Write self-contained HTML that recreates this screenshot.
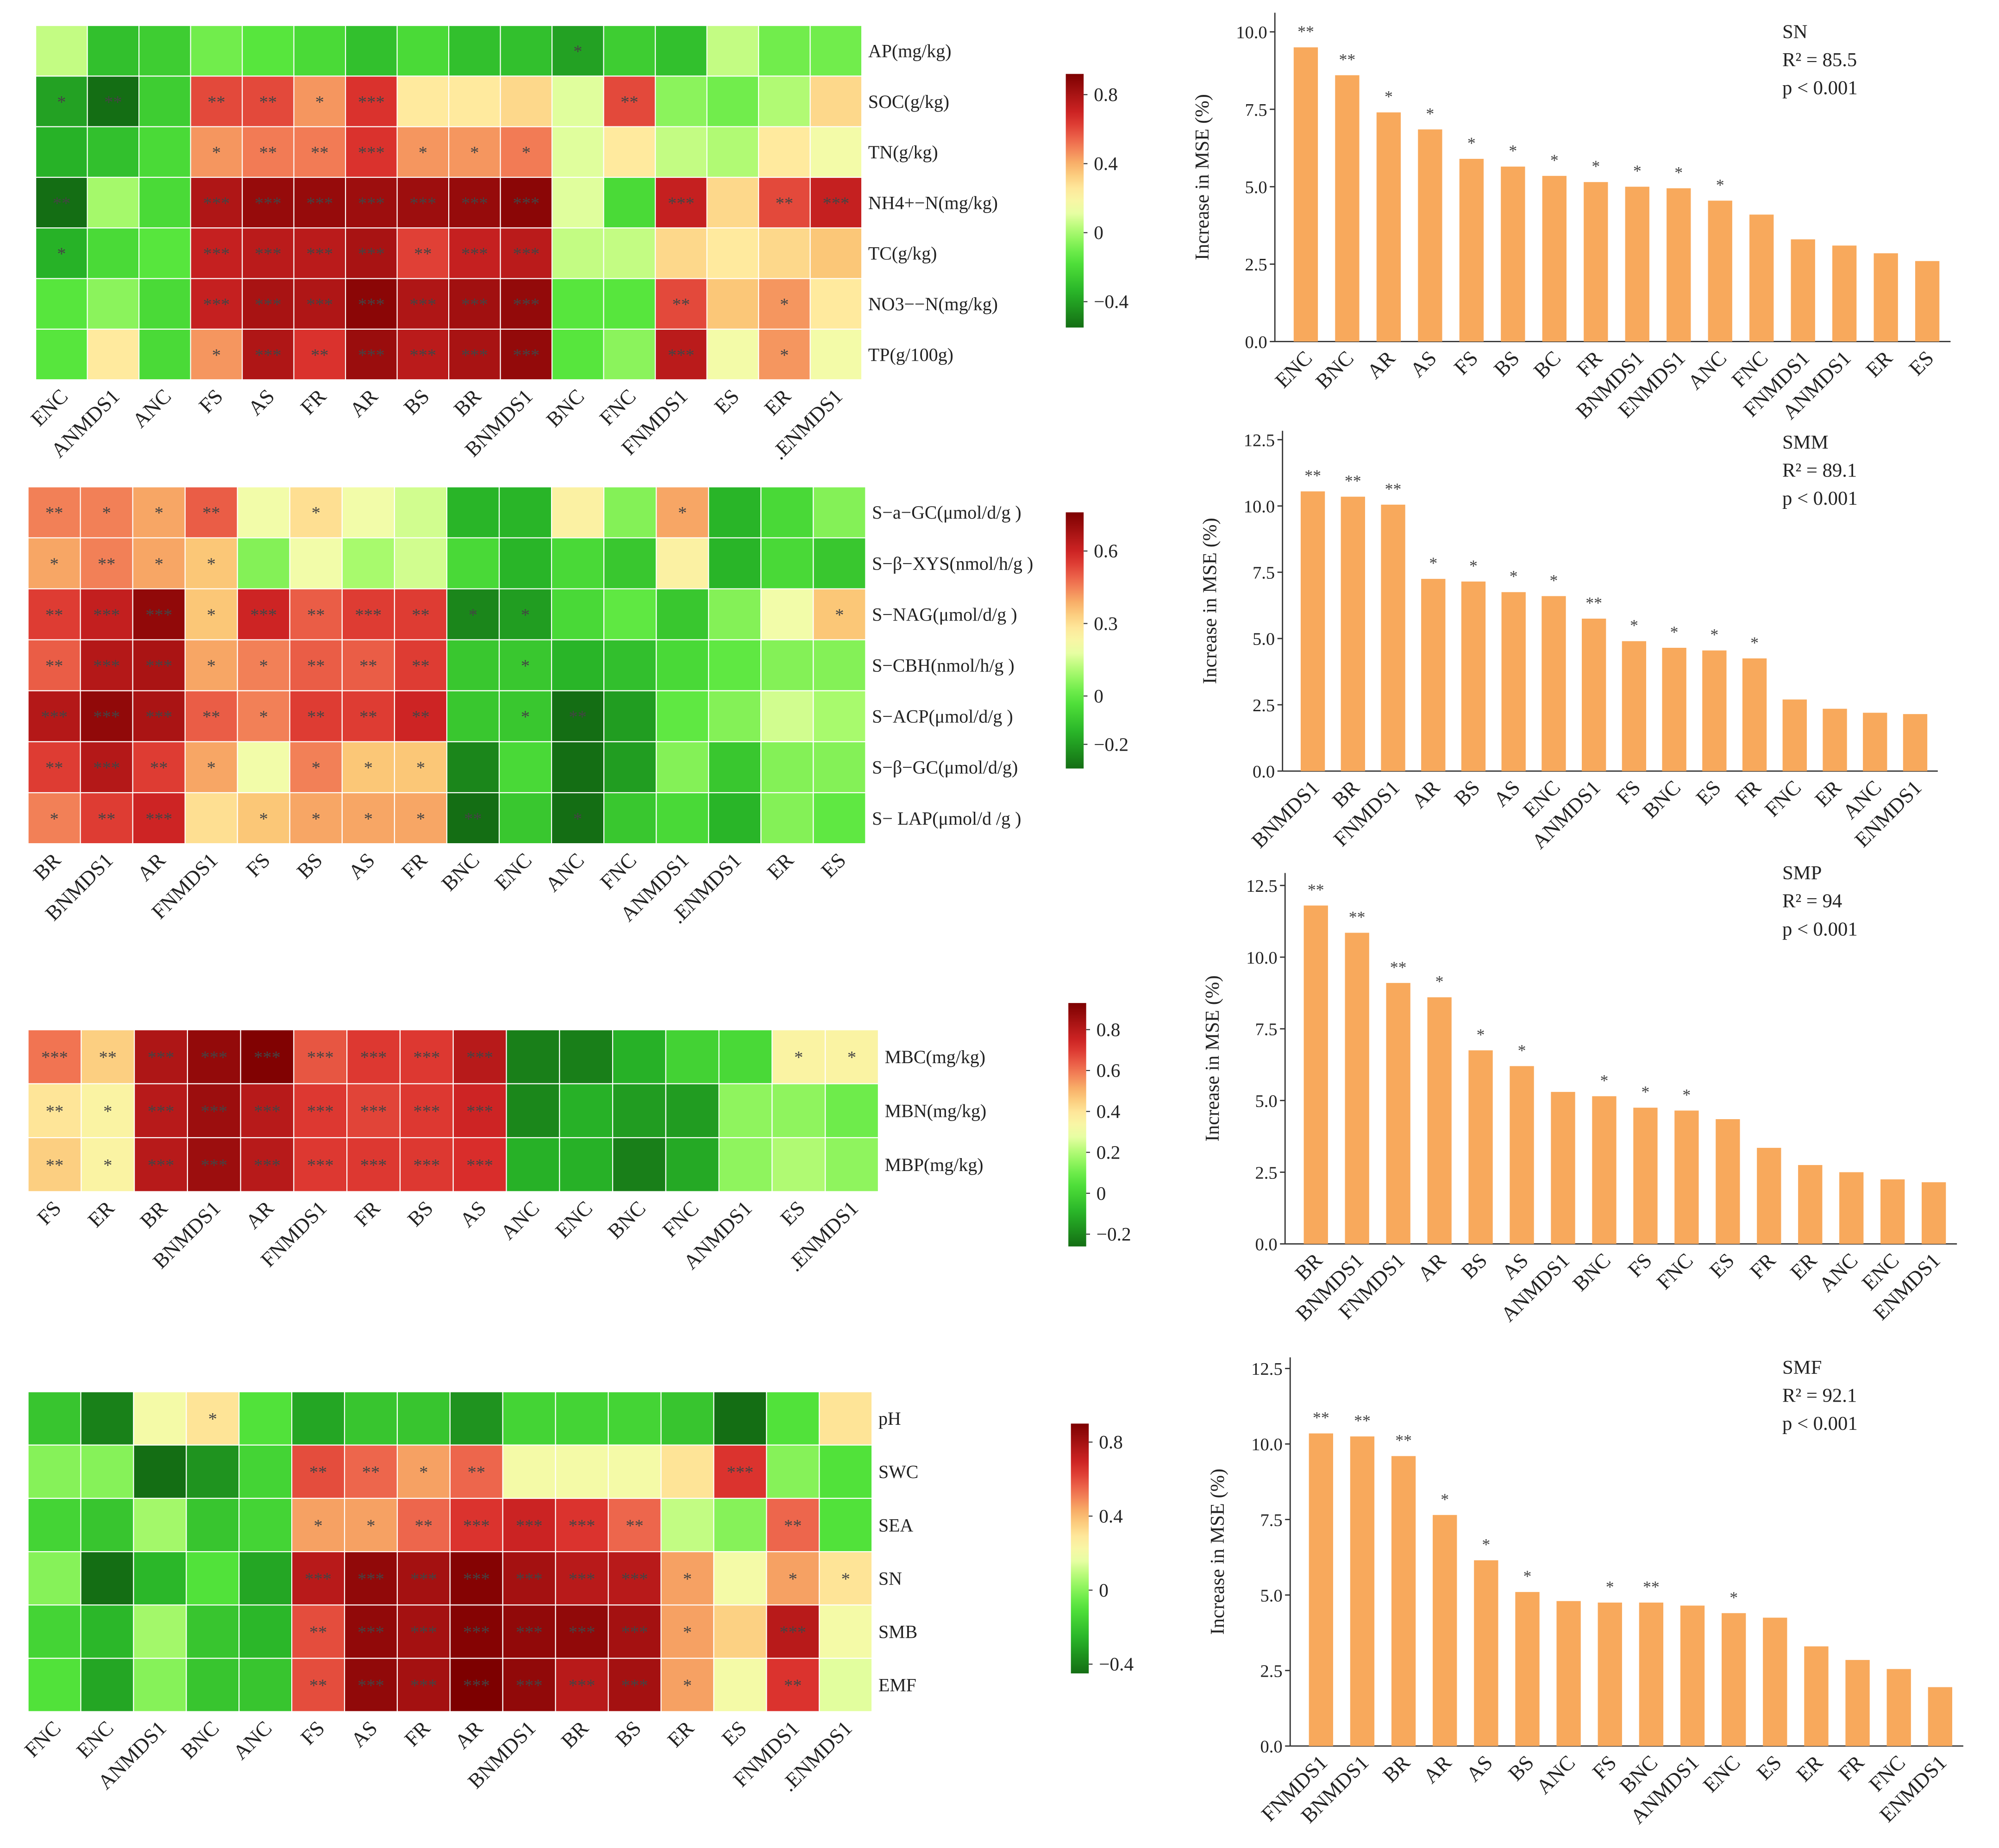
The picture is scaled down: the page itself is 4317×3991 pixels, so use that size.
<!DOCTYPE html>
<html><head><meta charset="utf-8"><style>
html,body{margin:0;padding:0;background:#fff}
svg{display:block}
text{font-family:"Liberation Serif",serif;fill:#222}
</style></head><body>
<svg id="fig" width="4317" height="3991" viewBox="0 0 1568 1450" preserveAspectRatio="none" xmlns="http://www.w3.org/2000/svg">
<rect width="1568" height="1450" fill="#fff"/>
</svg>
<script>
// ---------- Heatmap data ----------
const h1Cols = ["ENC","ANMDS1","ANC","FS","AS","FR","AR","BS","BR","BNMDS1","BNC","FNC","FNMDS1","ES","ER",".ENMDS1"];
const h1Rows = ["AP(mg/kg)","SOC(g/kg)","TN(g/kg)","NH4+−N(mg/kg)","TC(g/kg)","NO3−−N(mg/kg)","TP(g/100g)"];
const h1Vals = [
[0.05,-0.3,-0.25,-0.1,-0.15,-0.2,-0.3,-0.2,-0.3,-0.3,-0.4,-0.25,-0.3,0.05,-0.1,-0.1],
[-0.4,-0.55,-0.25,0.6,0.6,0.45,0.65,0.25,0.25,0.3,0.1,0.6,-0.05,-0.1,0.02,0.3],
[-0.35,-0.3,-0.2,0.45,0.5,0.5,0.65,0.45,0.45,0.5,0.1,0.25,0.05,0.02,0.25,0.15],
[-0.55,0.0,-0.2,0.78,0.85,0.85,0.83,0.83,0.85,0.88,0.1,-0.2,0.72,0.3,0.6,0.72],
[-0.35,-0.2,-0.15,0.72,0.75,0.75,0.8,0.62,0.72,0.75,0.05,0.05,0.3,0.25,0.3,0.35],
[-0.15,-0.05,-0.2,0.72,0.8,0.78,0.88,0.78,0.82,0.86,-0.15,-0.15,0.6,0.35,0.45,0.25],
[-0.15,0.25,-0.2,0.45,0.78,0.65,0.84,0.75,0.8,0.86,-0.15,-0.05,0.75,0.15,0.45,0.15]];
const h1Stars = [
["","","","","","","","","","","*","","","","",""],
["*","**","","**","**","*","***","","","","","**","","","",""],
["","","","*","**","**","***","*","*","*","","","","","",""],
["**","","","***","***","***","***","***","***","***","","","***","","**","***"],
["*","","","***","***","***","***","**","***","***","","","","","",""],
["","","","***","***","***","***","***","***","***","","","**","","*",""],
["","","","*","***","**","***","***","***","***","","","***","","*",""]];
const h1Ticks = [0.8,0.4,0,-0.4];

const h2Cols = ["BR","BNMDS1","AR","FNMDS1","FS","BS","AS","FR","BNC","ENC","ANC","FNC","ANMDS1",".ENMDS1","ER","ES"];
const h2Rows = ["S−a−GC(μmol/d/g )","S−β−XYS(nmol/h/g )","S−NAG(μmol/d/g )","S−CBH(nmol/h/g )","S−ACP(μmol/d/g )","S−β−GC(μmol/d/g)","S− LAP(μmol/d /g )"];
const h2Vals = [
[0.45,0.45,0.4,0.5,0.2,0.3,0.2,0.15,-0.15,-0.15,0.25,0.05,0.4,-0.15,-0.05,0.05],
[0.4,0.45,0.4,0.35,0.05,0.2,0.1,0.15,-0.05,-0.15,-0.05,-0.1,0.25,-0.15,-0.05,-0.1],
[0.55,0.62,0.72,0.35,0.6,0.5,0.55,0.55,-0.25,-0.2,-0.05,0.0,-0.1,0.05,0.2,0.35],
[0.5,0.65,0.67,0.4,0.45,0.5,0.5,0.55,-0.1,-0.1,-0.15,-0.12,-0.05,0.0,0.05,0.05],
[0.65,0.72,0.67,0.5,0.45,0.55,0.55,0.6,-0.1,-0.1,-0.3,-0.2,0.0,0.05,0.15,0.1],
[0.55,0.65,0.55,0.4,0.2,0.45,0.35,0.35,-0.25,-0.05,-0.3,-0.2,0.05,-0.1,0.05,0.05],
[0.45,0.55,0.6,0.3,0.35,0.4,0.4,0.4,-0.3,-0.1,-0.3,-0.1,-0.05,-0.15,0.05,0.0]];
const h2Stars = [
["**","*","*","**","","*","","","","","","","*","","",""],
["*","**","*","*","","","","","","","","","","","",""],
["**","***","***","*","***","**","***","**","*","*","","","","","","*"],
["**","***","***","*","*","**","**","**","","*","","","","","",""],
["***","***","***","**","*","**","**","**","","*","**","","","","",""],
["**","***","**","*","","*","*","*","","","","","","","",""],
["*","**","***","","*","*","*","*","**","","*","","","","",""]];
const h2Ticks = [0.6,0.3,0,-0.2];

const h3Cols = ["FS","ER","BR","BNMDS1","AR","FNMDS1","FR","BS","AS","ANC","ENC","BNC","FNC","ANMDS1","ES",".ENMDS1"];
const h3Rows = ["MBC(mg/kg)","MBN(mg/kg)","MBP(mg/kg)"];
const h3Vals = [
[0.6,0.45,0.82,0.88,0.92,0.65,0.7,0.7,0.8,-0.22,-0.22,-0.1,0.0,0.02,0.35,0.35],
[0.4,0.35,0.8,0.86,0.8,0.7,0.68,0.7,0.75,-0.2,-0.1,-0.15,-0.15,0.15,0.15,0.1],
[0.45,0.35,0.8,0.86,0.8,0.7,0.7,0.7,0.72,-0.1,-0.1,-0.22,-0.12,0.15,0.2,0.15]];
const h3Stars = [
["***","**","***","***","***","***","***","***","***","","","","","","*","*"],
["**","*","***","***","***","***","***","***","***","","","","","","",""],
["**","*","***","***","***","***","***","***","***","","","","","","",""]];
const h3Ticks = [0.8,0.6,0.4,0.2,0,-0.2];

const h4Cols = ["FNC","ENC","ANMDS1","BNC","ANC","FS","AS","FR","AR","BNMDS1","BR","BS","ER","ES","FNMDS1",".ENMDS1"];
const h4Rows = ["pH","SWC","SEA","SN","SMB","EMF"];
const h4Vals = [
[-0.2,-0.4,0.2,0.3,-0.1,-0.3,-0.2,-0.2,-0.35,-0.15,-0.15,-0.15,-0.2,-0.45,-0.1,0.3],
[0.0,0.0,-0.45,-0.35,-0.15,0.6,0.55,0.45,0.55,0.2,0.2,0.2,0.3,0.65,0.0,-0.1],
[-0.15,-0.2,0.05,-0.2,-0.15,0.45,0.45,0.55,0.65,0.7,0.65,0.55,0.1,0.0,0.55,-0.1],
[0.0,-0.45,-0.25,-0.1,-0.3,0.75,0.85,0.8,0.88,0.8,0.75,0.75,0.45,0.2,0.45,0.3],
[-0.15,-0.25,0.05,-0.2,-0.25,0.6,0.85,0.8,0.88,0.85,0.85,0.8,0.45,0.35,0.75,0.2],
[-0.1,-0.3,0.0,-0.2,-0.2,0.6,0.85,0.8,0.9,0.85,0.75,0.8,0.45,0.2,0.65,0.15]];
const h4Stars = [
["","","","*","","","","","","","","","","","",""],
["","","","","","**","**","*","**","","","","","***","",""],
["","","","","","*","*","**","***","***","***","**","","","**",""],
["","","","","","***","***","***","***","***","***","***","*","","*","*"],
["","","","","","**","***","***","***","***","***","***","*","","***",""],
["","","","","","**","***","***","***","***","***","***","*","","**",""]];
const h4Ticks = [0.8,0.4,0,-0.4];

// ---------- Bar data ----------
const b1Cats = ["ENC","BNC","AR","AS","FS","BS","BC","FR","BNMDS1","ENMDS1","ANC","FNC","FNMDS1","ANMDS1","ER","ES"];
const b1Vals = [9.5,8.6,7.4,6.85,5.9,5.65,5.35,5.15,5.0,4.95,4.55,4.1,3.3,3.1,2.85,2.6];
const b1Stars = ["**","**","*","*","*","*","*","*","*","*","*","","","","",""];
const b1Ticks = [0,2.5,5,7.5,10];
const b2Cats = ["BNMDS1","BR","FNMDS1","AR","BS","AS","ENC","ANMDS1","FS","BNC","ES","FR","FNC","ER","ANC","ENMDS1"];
const b2Vals = [10.55,10.35,10.05,7.25,7.15,6.75,6.6,5.75,4.9,4.65,4.55,4.25,2.7,2.35,2.2,2.15];
const b2Stars = ["**","**","**","*","*","*","*","**","*","*","*","*","","","",""];
const b2Ticks = [0,2.5,5,7.5,10,12.5];
const b3Cats = ["BR","BNMDS1","FNMDS1","AR","BS","AS","ANMDS1","BNC","FS","FNC","ES","FR","ER","ANC","ENC","ENMDS1"];
const b3Vals = [11.8,10.85,9.1,8.6,6.75,6.2,5.3,5.15,4.75,4.65,4.35,3.35,2.75,2.5,2.25,2.15];
const b3Stars = ["**","**","**","*","*","*","","*","*","*","","","","","",""];
const b3Ticks = [0,2.5,5,7.5,10,12.5];
const b4Cats = ["FNMDS1","BNMDS1","BR","AR","AS","BS","ANC","FS","BNC","ANMDS1","ENC","ES","ER","FR","FNC","ENMDS1"];
const b4Vals = [10.35,10.25,9.6,7.65,6.15,5.1,4.8,4.75,4.75,4.65,4.4,4.25,3.3,2.85,2.55,1.95];
const b4Stars = ["**","**","**","*","*","*","","*","**","","*","","","","",""];
const b4Ticks = [0,2.5,5,7.5,10,12.5];

const svg = document.getElementById('fig');
const NS = 'http://www.w3.org/2000/svg';
function mk(tag, attrs, parent, txt){
  const e = document.createElementNS(NS, tag);
  for (const k in attrs) e.setAttribute(k, attrs[k]);
  if (txt !== undefined) e.textContent = txt;
  (parent||svg).appendChild(e); return e;
}
const stops = [[0,[20,110,20]],[0.14,[40,180,40]],[0.27,[85,230,60]],[0.38,[170,250,110]],[0.46,[240,255,170]],[0.54,[255,236,160]],[0.63,[250,190,110]],[0.73,[240,110,80]],[0.83,[215,40,40]],[1,[125,0,0]]];
function cmap(t){
  t = Math.max(0, Math.min(1, t));
  for (let i=1;i<stops.length;i++){
    if (t<=stops[i][0]){
      const a=stops[i-1], b=stops[i], f=(t-a[0])/(b[0]-a[0]);
      const c=a[1].map((v,j)=>Math.round(v+(b[1][j]-v)*f));
      return `rgb(${c[0]},${c[1]},${c[2]})`;
    }
  }
  return 'rgb(125,0,0)';
}

function heatmap(id, cfg, cols, rows, vals, stars, ticks){
  const g = mk('g', {}, svg);
  
  
  const cw = (cfg.x1-cfg.x0)/cols.length, ch = (cfg.y1-cfg.y0)/rows.length;
  const norm = v => (v-cfg.vmin)/(cfg.vmax-cfg.vmin);
  rows.forEach((r,i)=>{
    cols.forEach((c,j)=>{
      const cell = mk('rect', {x:cfg.x0+j*cw, y:cfg.y0+i*ch, width:cw, height:ch, fill:cmap(norm(vals[i][j])), stroke:'#fff', 'stroke-width':0.8}, g);
      
      
      if (stars[i][j]) {
        const s = mk('text', {x:cfg.x0+(j+0.5)*cw, y:cfg.y0+(i+0.5)*ch+5, 'text-anchor':'middle', 'font-size':14, style:'fill:#444'}, g, stars[i][j]);
        
        
      }
    });
    const rl = mk('text', {x:cfg.x1+5, y:cfg.y0+(i+0.5)*ch+5, 'font-size':14.5}, g, r);
    
    
  });
  cols.forEach((c,j)=>{
    const cx = cfg.x0+(j+0.5)*cw+6, cy = cfg.y1+14;
    const cl = mk('text', {x:cx, y:cy, 'text-anchor':'end', 'font-size':16.5, transform:`rotate(-45 ${cx} ${cy})`}, g, c);
    
    
  });
  const gid = id+'-grad';
  const defs = mk('defs', {}, g);
  const lg = mk('linearGradient', {id:gid, x1:0, y1:1, x2:0, y2:0}, defs);
  for (let k=0;k<=20;k++) mk('stop', {offset:k/20, 'stop-color':cmap(k/20)}, lg);
  const cb = mk('rect', {x:cfg.cbx, y:cfg.cby0, width:14, height:cfg.cby1-cfg.cby0, fill:`url(#${gid})`}, g);
  
  
  ticks.forEach(t=>{
    const y = cfg.cby1 - norm(t)*(cfg.cby1-cfg.cby0);
    mk('line', {x1:cfg.cbx+14, x2:cfg.cbx+17, y1:y, y2:y, stroke:'#333', 'stroke-width':0.8}, g);
    const tl = mk('text', {x:cfg.cbx+22, y:y+5, 'font-size':15}, g, t===0?'0':(t<0?'−'+Math.abs(t):String(t)));
    
    
  });
}

heatmap('heatmap-soil-nutrients', {x0:28,x1:676,y0:20,y1:298,vmin:-0.55,vmax:0.92,cbx:836,cby0:58,cby1:257}, h1Cols,h1Rows,h1Vals,h1Stars,h1Ticks);
heatmap('heatmap-enzymes', {x0:22,x1:679,y0:382,y1:662,vmin:-0.3,vmax:0.76,cbx:836,cby0:402,cby1:603}, h2Cols,h2Rows,h2Vals,h2Stars,h2Ticks);
heatmap('heatmap-microbial-biomass', {x0:22,x1:689,y0:808,y1:935,vmin:-0.26,vmax:0.93,cbx:838,cby0:787,cby1:978}, h3Cols,h3Rows,h3Vals,h3Stars,h3Ticks);
heatmap('heatmap-multifunctionality', {x0:22,x1:684,y0:1092,y1:1343,vmin:-0.45,vmax:0.9,cbx:840,cby0:1117,cby1:1313}, h4Cols,h4Rows,h4Vals,h4Stars,h4Ticks);

function barchart(id, cfg, cats, vals, stars, ticks, title, r2){
  const g = mk('g', {}, svg);
  
  
  const yS = v => cfg.y0 - v*cfg.k;
  const n = cats.length, step = (cfg.xe-cfg.ax-10)/n;
  const xC = i => cfg.ax + 8 + step*(i+0.5);
  mk('line', {x1:cfg.ax, x2:cfg.ax, y1:cfg.ytop, y2:cfg.y0, stroke:'#333', 'stroke-width':1}, g);
  mk('line', {x1:cfg.ax, x2:cfg.xe, y1:cfg.y0, y2:cfg.y0, stroke:'#333', 'stroke-width':1}, g);
  ticks.forEach(t=>{
    const y = yS(t);
    mk('line', {x1:cfg.ax-4, x2:cfg.ax, y1:y, y2:y, stroke:'#333'}, g);
    const tl = mk('text', {x:cfg.ax-6, y:y+5, 'text-anchor':'end', 'font-size':14}, g, t.toFixed(1));
    
    
  });
  vals.forEach((v,i)=>{
    const b = mk('rect', {x:xC(i)-9.5, y:yS(v), width:19, height:v*cfg.k, fill:'#f8a95c'}, g);
    
    
    if (stars[i]) {
      const s = mk('text', {x:xC(i), y:yS(v)-8, 'text-anchor':'middle', 'font-size':13, style:'fill:#444'}, g, stars[i]);
      
      
    }
    const cx = xC(i)+6, cy = cfg.y0+14;
    const cl = mk('text', {x:cx, y:cy, 'text-anchor':'end', 'font-size':16.5, transform:`rotate(-45 ${cx} ${cy})`}, g, cats[i]);
    
    
  });
  const ly = (cfg.ytop+cfg.y0)/2, lx = cfg.ax-52;
  const yl = mk('text', {x:lx, y:ly, 'text-anchor':'middle', 'font-size':15.5, transform:`rotate(-90 ${lx} ${ly})`}, g, 'Increase in MSE (%)');
  
  
  const t1 = mk('text', {x:cfg.tx, y:cfg.ty, 'font-size':15.5}, g, title);
  
  
  const t2 = mk('text', {x:cfg.tx, y:cfg.ty+22, 'font-size':15.5}, g, 'R² = '+r2);
  
  
  const t3 = mk('text', {x:cfg.tx, y:cfg.ty+44, 'font-size':15.5}, g, 'p < 0.001');
  
  
}

barchart('bar-chart-sn', {ax:1000,xe:1530,y0:268,k:24.3,ytop:10,tx:1398,ty:30}, b1Cats,b1Vals,b1Stars,b1Ticks,'SN','85.5');
barchart('bar-chart-smm', {ax:1006,xe:1520,y0:605,k:20.8,ytop:338,tx:1398,ty:352}, b2Cats,b2Vals,b2Stars,b2Ticks,'SMM','89.1');
barchart('bar-chart-smp', {ax:1008,xe:1535,y0:976,k:22.5,ytop:685,tx:1398,ty:690}, b3Cats,b3Vals,b3Stars,b3Ticks,'SMP','94');
barchart('bar-chart-smf', {ax:1012,xe:1540,y0:1370,k:23.7,ytop:1065,tx:1398,ty:1078}, b4Cats,b4Vals,b4Stars,b4Ticks,'SMF','92.1');
</script>
</body></html>
